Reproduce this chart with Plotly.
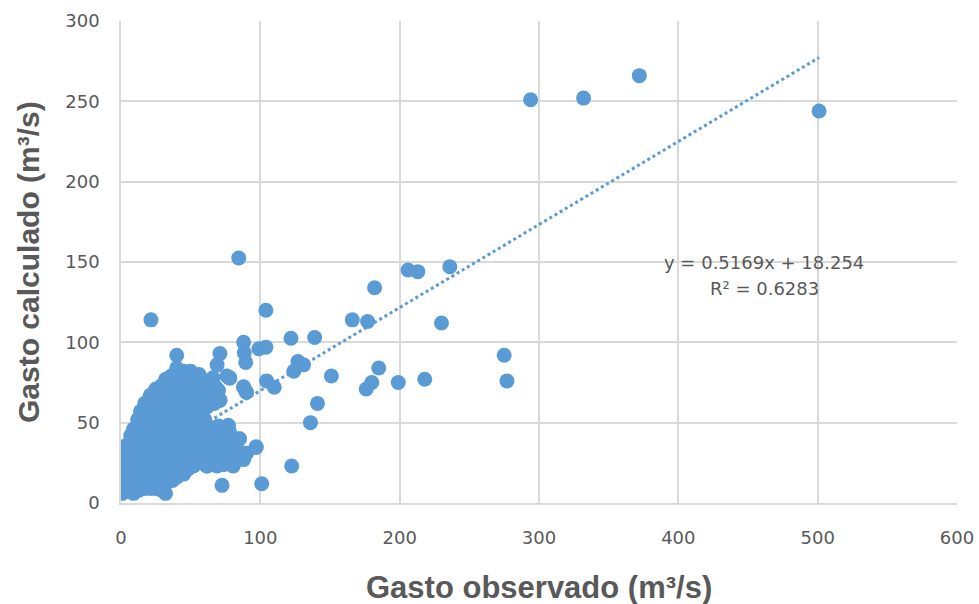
import plotly.graph_objects as go

# Gasto observado (x) and Gasto calculado (y), m3/s
cluster_x = [
    1, 3, 6, 9, 13, 17, 21, 25, 29, 32,
    0.5, 2, 5, 8, 12, 16, 20, 24, 28, 33, 37,
    0.5, 3, 6, 10, 14, 18, 22, 26, 30, 35, 40, 45,
    1, 4, 7, 11, 15, 19, 23, 27, 31, 35, 39, 43, 48, 52, 57, 62, 69, 74, 81,
    1, 4, 8, 12, 16, 20, 24, 28, 32, 36, 40, 44, 48, 53, 58, 63, 68, 75, 83, 90,
    2, 5, 9, 13, 17, 21, 25, 29, 33, 37, 41, 45, 50, 55, 60, 65, 70, 76, 84, 97,
    4, 7, 11, 15, 19, 23, 27, 31, 35, 39, 43, 47, 52, 57, 62, 67, 72, 79, 85,
    7, 10, 14, 18, 22, 26, 30, 34, 38, 42, 46, 51, 56, 61, 66, 72, 78,
    9, 12, 16, 20, 24, 28, 32, 36, 40, 44, 48, 53, 58, 64, 70, 77,
    12, 15, 19, 23, 27, 31, 35, 39, 43, 47, 51, 56, 60,
    14, 17, 21, 25, 29, 33, 37, 41, 45, 49, 53, 58, 62,
    17, 20, 24, 28, 32, 36, 40, 44, 48, 52, 57, 62, 67, 71,
    21, 24, 28, 32, 36, 40, 44, 48, 53, 58, 63, 70, 88, 90,
    25, 29, 33, 37, 41, 45, 49, 54, 58, 62, 68, 78,
    32, 36, 40, 44, 48, 52, 56, 61, 66, 69, 71, 76,
    40, 40, 45, 50,
]
cluster_y = [
    6, 8, 7, 6, 8, 9, 9, 9, 8, 6,
    10, 12, 11, 12, 11, 12, 12, 11, 12, 13, 14,
    15, 16, 17, 15, 17, 16, 15, 17, 16, 17, 16, 18,
    20, 22, 20, 22, 20, 22, 21, 20, 22, 21, 20, 22, 21, 23, 25, 23, 23, 24, 25,
    26, 28, 26, 28, 27, 26, 28, 27, 26, 28, 27, 26, 28, 27, 28, 27, 28, 29, 28, 31,
    32, 34, 33, 32, 34, 33, 32, 34, 33, 32, 34, 33, 32, 34, 33, 32, 33, 34, 33, 35,
    36, 38, 37, 39, 37, 38, 37, 39, 37, 38, 37, 39, 37, 38, 37, 37, 39, 38, 40,
    42, 44, 43, 42, 44, 43, 42, 44, 43, 42, 44, 43, 42, 44, 43, 42, 44,
    46, 48, 47, 49, 47, 48, 47, 49, 47, 48, 47, 49, 47, 47, 48, 48,
    52, 54, 53, 52, 54, 53, 52, 54, 53, 52, 54, 53, 52,
    57, 59, 58, 57, 59, 58, 57, 59, 58, 57, 59, 58, 60,
    62, 64, 63, 62, 64, 63, 62, 64, 63, 62, 64, 63, 62, 64,
    67, 69, 68, 67, 69, 68, 67, 69, 68, 67, 69, 70, 72, 69,
    71, 73, 74, 72, 74, 73, 72, 74, 73, 74, 72, 78,
    77, 79, 78, 80, 79, 78, 80, 76, 78, 86, 93, 79,
    84, 92, 82, 82,
]
outlier_x = [294, 332, 372, 501, 236, 206, 213, 230, 182, 166, 177, 139, 122, 104,
             84.5, 21.5, 275, 277, 218, 199, 185, 180, 176, 151, 136, 141, 122.5,
             127, 131, 124, 110, 104.5, 99, 104, 88, 88.5, 89.5, 101, 72.5, 85, 97,
             90, 88, 80.5, 71, 61.5, 78, 88, 90, 71, 77]
outlier_y = [251, 252, 266, 244, 147, 145, 144, 112, 134, 114, 113, 103, 102.5, 120,
             152.5, 114, 92, 76, 77, 75, 84, 75, 71, 79, 50, 62, 23,
             88, 86, 82, 72, 76, 96, 97, 100, 93.5, 87.5, 12, 11, 40, 34.5,
             31, 27, 23, 25, 23, 77.6, 72.4, 69, 64, 48.4]

trend_slope = 0.5169
trend_intercept = 18.254
r_squared = 0.6283

x_ticks = [0, 100, 200, 300, 400, 500, 600]
y_ticks = [0, 50, 100, 150, 200, 250, 300]

obs = cluster_x + outlier_x
calc = cluster_y + outlier_y

blue = "#5B9BD5"
grey_text = "#595959"
grid = "#D9D9D9"

tx = [min(obs), max(obs)]
ty = [trend_slope * v + trend_intercept for v in tx]

fig = go.Figure()
fig.add_trace(go.Scatter(x=obs, y=calc, mode="markers",
                         marker=dict(color=blue, size=15, line=dict(width=0)),
                         showlegend=False, hoverinfo="x+y"))
fig.add_trace(go.Scatter(x=tx, y=ty, mode="lines",
                         line=dict(color=blue, width=3, dash="dot"),
                         showlegend=False, hoverinfo="skip"))

tick_font = dict(family="DejaVu Sans", size=18, color=grey_text)
eq_font = dict(family="DejaVu Sans", size=18, color=grey_text)
fig.update_layout(
    width=979, height=604,
    margin=dict(l=121, r=22, t=21, b=101),
    paper_bgcolor="white", plot_bgcolor="white",
    xaxis=dict(range=[0, 600], tickvals=x_ticks, ticktext=[str(v) for v in x_ticks],
               showgrid=True, gridcolor=grid, gridwidth=1.5, zeroline=False,
               showline=True, linecolor=grid, linewidth=1.5, automargin=False,
               tickfont=tick_font, ticks="", ticklabelstandoff=18),
    yaxis=dict(range=[0, 300], tickvals=y_ticks, ticktext=[str(v) for v in y_ticks],
               showgrid=True, gridcolor=grid, gridwidth=1.5, zeroline=False,
               showline=True, linecolor=grid, linewidth=1.5, automargin=False,
               tickfont=tick_font, ticks="", ticklabelstandoff=16),
    annotations=[
        dict(text=f"y = {trend_slope}x + {trend_intercept}",
             x=461.5, y=150, xref="x", yref="y", showarrow=False,
             xanchor="center", yanchor="middle", font=eq_font),
        dict(text=f"R² = {r_squared}",
             x=461.5, y=133.2, xref="x", yref="y", showarrow=False,
             xanchor="center", yanchor="middle", font=eq_font),
        dict(text="<b>Gasto observado (m³/s)</b>", xref="paper", yref="paper",
             x=0.5, y=0, yshift=-84, xanchor="center", yanchor="middle", showarrow=False,
             font=dict(family="Liberation Sans", size=31, color=grey_text)),
        dict(text="<b>Gasto calculado (m³/s)</b>", xref="paper", yref="paper",
             x=0, y=0.5, xshift=-93, xanchor="center", yanchor="middle",
             textangle=-90, showarrow=False,
             font=dict(family="Liberation Sans", size=30, color=grey_text)),
    ],
)

fig.write_html("out.html", config={"displayModeBar": False},
               post_script="document.body.style.margin='0px';")
